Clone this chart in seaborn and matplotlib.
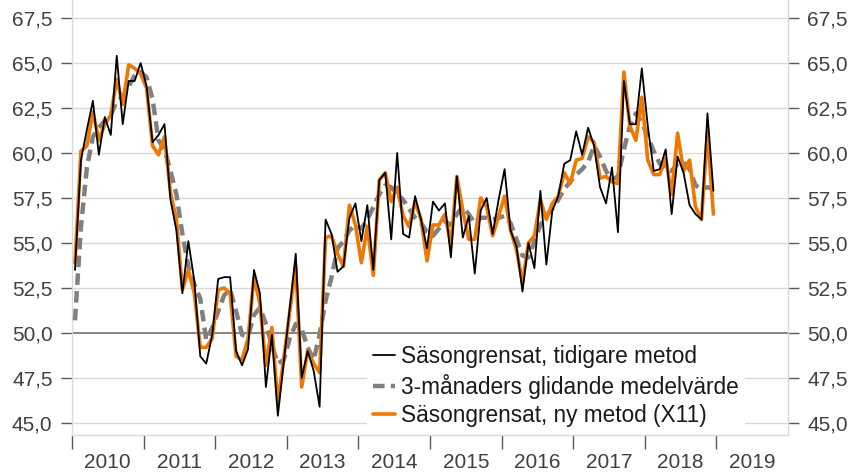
import numpy as np
import pandas as pd
import matplotlib
matplotlib.use('Agg')
import matplotlib.pyplot as plt
from matplotlib.ticker import FixedLocator, FuncFormatter, NullFormatter
import seaborn as sns

# Monthly values Jan 2010 - Dec 2018
years = list(range(2010, 2020))
y_ticks = [45.0, 47.5, 50.0, 52.5, 55.0, 57.5, 60.0, 62.5, 65.0, 67.5]

tidigare = [
    53.5, 59.6, 61.3, 62.9, 59.9, 62.0, 61.0, 65.4, 61.6, 64.0, 64.0, 65.0,
    63.7, 60.6, 61.0, 61.6, 57.4, 55.7, 52.2, 55.1, 52.9, 48.7, 48.3, 49.9,
    53.0, 53.1, 53.1, 49.0, 48.2, 49.1, 53.5, 52.2, 47.0, 49.9, 45.4, 48.4,
    51.4, 54.4, 47.5, 49.0, 47.9, 45.9, 56.3, 55.5, 53.4, 53.7, 56.4, 57.2,
    55.1, 57.1, 53.5, 58.5, 58.9, 55.2, 60.0, 55.5, 55.3, 57.6, 56.3, 54.7,
    57.3, 56.8, 57.2, 54.2, 58.7, 55.3, 56.5, 53.3, 56.8, 57.5, 55.5, 57.4,
    59.1, 55.7, 54.8, 52.3, 55.0, 53.6, 57.9, 53.8, 56.8, 57.6, 59.4, 59.6,
    61.2, 59.9, 61.4, 60.4, 58.1, 57.2, 59.2, 55.6, 64.0, 61.6, 61.6, 64.7,
    61.5, 59.0, 59.1, 60.2, 56.6, 59.8, 58.9, 57.1, 56.6, 56.3, 62.2, 57.9,
]

glidande = [
    50.7, 55.9, 59.2, 60.9, 61.4, 61.8, 62.1, 62.9, 63.1, 63.7, 64.3, 64.5,
    64.2, 63.0, 60.7, 60.2, 59.0, 57.7, 55.5, 53.7, 52.7, 51.9, 49.6, 50.3,
    51.2, 52.1, 52.4, 51.2, 49.9, 49.8, 51.0, 51.4, 50.5, 49.3, 48.3, 48.5,
    49.7, 50.5, 50.2, 49.2, 48.5, 49.9, 51.8, 53.1, 54.7, 55.1, 55.7, 56.0,
    55.8, 56.3, 57.0, 57.7, 58.2, 58.1, 57.7, 57.4, 56.9, 56.4, 56.1, 55.6,
    55.4, 55.8, 56.2, 56.0, 56.6, 57.0, 56.6, 56.1, 56.4, 56.4, 56.3, 56.4,
    56.5, 56.1, 55.2, 54.3, 54.2, 55.1, 56.0, 56.5, 56.9, 57.4, 58.0, 58.4,
    58.8, 59.1, 59.5, 60.4, 59.8, 59.0, 58.5, 58.7, 60.2, 61.5, 62.2, 61.7,
    60.9, 60.1, 59.4, 59.1, 59.0, 59.4, 59.5, 59.1, 58.2, 58.0, 58.1, 58.0,
]

ny_metod = [
    53.9, 60.1, 60.4, 62.3, 60.7, 61.6, 62.1, 64.1, 62.7, 64.9, 64.7, 64.4,
    63.6, 60.4, 59.9, 60.9, 57.8, 56.3, 52.4, 53.5, 52.2, 49.2, 49.2, 49.7,
    52.4, 52.5, 52.2, 48.7, 48.5, 49.7, 53.1, 51.6, 48.2, 50.3, 46.1, 48.6,
    51.2, 53.7, 47.0, 49.0, 48.3, 47.8, 55.3, 55.4, 54.4, 53.7, 57.1, 56.0,
    53.9, 55.9, 53.2, 58.5, 58.9, 57.3, 58.1, 56.5, 55.9, 57.3, 56.3, 54.0,
    56.0, 56.0, 56.6, 54.9, 58.7, 56.8, 55.2, 55.2, 57.5, 57.0, 55.4, 56.5,
    57.6, 55.7, 54.6, 52.8, 55.0, 55.4, 57.4, 56.3, 57.2, 57.6, 58.9, 58.3,
    59.6, 59.7, 60.9, 60.6, 58.6, 58.7, 58.4, 58.3, 64.5, 61.5, 60.7, 63.1,
    59.6, 58.8, 58.8, 59.7, 57.7, 61.1, 59.0, 59.6, 57.0, 56.3, 61.2, 56.6,
]

labels = ['Säsongrensat, tidigare metod',
          '3-månaders glidande medelvärde',
          'Säsongrensat, ny metod (X11)']

months = np.arange(len(tidigare))
df = pd.DataFrame({
    'x': 2010 + (months + 0.5) / 12,
    'tidigare': tidigare,
    'glidande': glidande,
    'ny': ny_metod,
})

sns.set_style('white')
plt.rcParams['font.family'] = ['Liberation Sans', 'DejaVu Sans']

W, H = 849, 472
fig = plt.figure(figsize=(W / 100, H / 100), dpi=100)
ax = fig.add_axes([72 / W, 1 - 435 / H, (788 - 72) / W, 435 / H])

sns.lineplot(data=df, x='x', y='glidande', ax=ax, color='#808080', lw=3.2,
             zorder=3)
ax.lines[-1].set_dashes((2.6, 1.4))
sns.lineplot(data=df, x='x', y='ny', ax=ax, color='#F07800', lw=2.6, zorder=4)
sns.lineplot(data=df, x='x', y='tidigare', ax=ax, color='black', lw=1.3, zorder=5)
h_glid, h_ny, h_tid = ax.lines[0], ax.lines[1], ax.lines[2]

ax.set_xlim(2010, 2020)
ax.set_ylim(44.33, 68.5)
ax.set_xlabel('')
ax.set_ylabel('')

# y axis, both sides
ax.yaxis.set_major_locator(FixedLocator(y_ticks))
ax.yaxis.set_major_formatter(FuncFormatter(lambda v, p: f'{v:.1f}'.replace('.', ',')))
ax.tick_params(axis='y', which='major', direction='out', length=8, width=1,
               color='#595959', labelsize=15, labelcolor='#404040', pad=6,
               left=True, right=True, labelleft=True, labelright=True)
ax.grid(axis='y', color='#d9d9d9', lw=1, zorder=0)
ax.grid(axis='x', visible=False)
ax.axhline(50, color='#868686', lw=1.4, zorder=1)

# x axis: year boundaries as ticks, year labels centred
ax.xaxis.set_major_locator(FixedLocator(years))
ax.xaxis.set_major_formatter(NullFormatter())
ax.xaxis.set_minor_locator(FixedLocator([y + 0.5 for y in years]))
ax.xaxis.set_minor_formatter(FuncFormatter(lambda v, p: str(int(v))))
ax.tick_params(axis='x', which='major', direction='out', length=10, width=1,
               color='#595959', bottom=True)
ax.tick_params(axis='x', which='minor', length=0, labelsize=15,
               labelcolor='#404040', pad=13)

for side in ['left', 'right', 'bottom']:
    ax.spines[side].set_color('#d9d9d9')
    ax.spines[side].set_linewidth(1)
ax.spines['top'].set_visible(False)

leg = ax.legend([h_tid, h_glid, h_ny], labels, loc='lower left',
                bbox_to_anchor=(0.41, 0.0), fontsize=16.3, frameon=True,
                facecolor='white', edgecolor='none', framealpha=1,
                fancybox=False, handlelength=0.95, handletextpad=0.25,
                labelspacing=0.24, borderpad=0.3, borderaxespad=0.05)
for t in leg.get_texts():
    t.set_color('#1a1a1a')
leg.set_zorder(10)

fig.savefig('out.png', dpi=100)
